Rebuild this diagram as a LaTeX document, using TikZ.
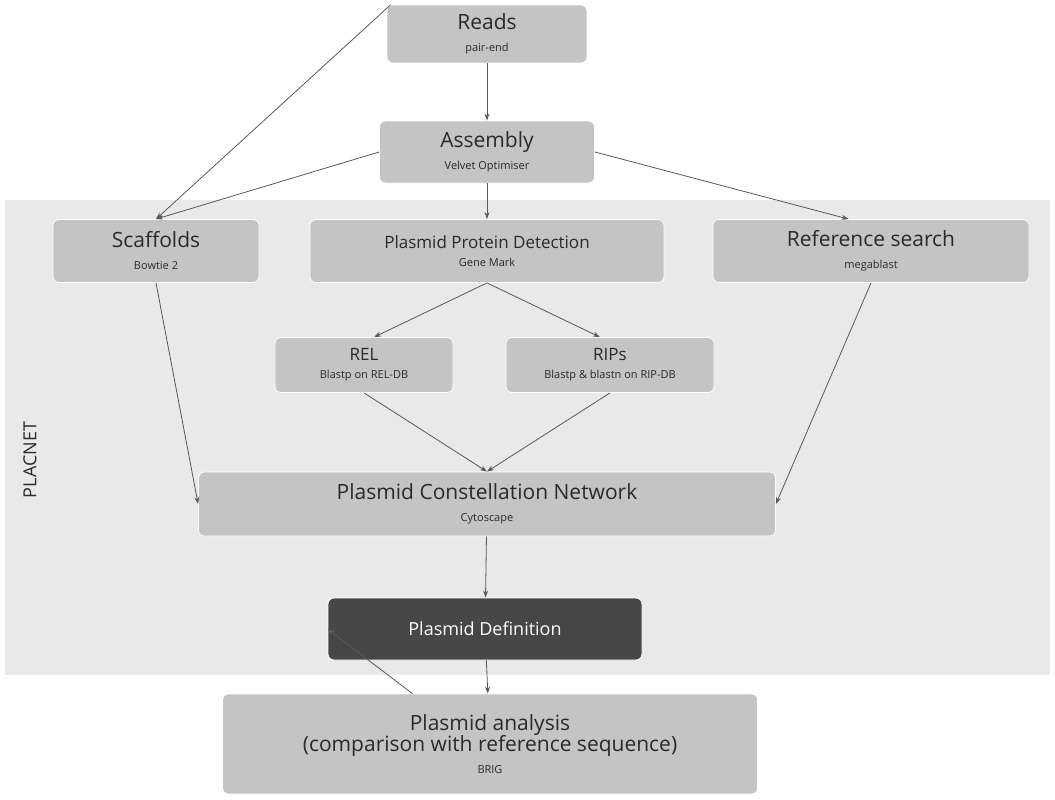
\documentclass[tikz,border=0pt]{standalone}
\usepackage{fontspec}
\setmainfont{Open Sans}
\usetikzlibrary{arrows.meta}
\definecolor{boxgray}{HTML}{C4C4C4}
\definecolor{bandgray}{HTML}{E9E9E9}
\definecolor{darkbox}{HTML}{474747}
\definecolor{txtgray}{HTML}{2A2A2A}
\tikzset{
  stage/.style={rounded corners=6pt,fill=boxgray,draw=white,line width=0.8pt,
    align=center,inner sep=0pt,text=txtgray,font=\fontsize{21}{24}\selectfont},
  flow/.style={draw=gray!70!black,line width=0.8pt,-{Stealth[length=7pt,width=5pt]}}
}
\newcommand{\subtxt}[1]{\\[-2pt]{\fontsize{11}{13}\selectfont #1}}
\begin{document}
\begin{tikzpicture}[x=1pt,y=-1pt]
  \useasboundingbox (0,0) rectangle (1055,800);
  \fill[bandgray] (5,200) rectangle (1050,675);
  \node[rotate=90,font=\fontsize{18}{20}\selectfont,text=txtgray] (placnet) at (30,460) {PLACNET};

  \node[stage,minimum width=200,minimum height=58] (reads) at (487,34) {Reads\subtxt{pair-end}};
  \node[stage,minimum width=215,minimum height=62] (asm) at (487,152) {Assembly\subtxt{Velvet Optimiser}};
  \node[stage,minimum width=206,minimum height=63] (scaf) at (156,251) {Scaffolds\subtxt{Bowtie 2}};
  \node[stage,minimum width=354,minimum height=63,font=\fontsize{17}{20}\selectfont] (ppd) at (487,251) {Plasmid Protein Detection\subtxt{Gene Mark}};
  \node[stage,minimum width=316,minimum height=63] (ref) at (871,251) {Reference search\subtxt{megablast}};
  \node[stage,minimum width=178,minimum height=55,font=\fontsize{17}{20}\selectfont] (rel) at (364,365) {REL\subtxt{Blastp on REL-DB}};
  \node[stage,minimum width=208,minimum height=55,font=\fontsize{17}{20}\selectfont] (rips) at (610,365) {RIPs\subtxt{Blastp \& blastn on RIP-DB}};
  \node[stage,minimum width=577,minimum height=64] (pcn) at (487,504) {Plasmid Constellation Network\subtxt{Cytoscape}};
  \node[stage,fill=darkbox,text=white,minimum width=314,minimum height=62,font=\fontsize{18}{20}\selectfont] (pdef) at (485,629) {Plasmid Definition};
  \node[stage,minimum width=535,minimum height=100] (ana) at (490,744) {Plasmid analysis\\[-3pt](comparison with reference sequence)\subtxt{BRIG}};

  \draw[flow] (reads.163) -- (scaf.north);
  \draw[flow] (reads) -- (asm);
  \draw[flow] (asm.west) -- (scaf.north);
  \draw[flow] (asm) -- (ppd);
  \draw[flow] (asm.east) -- (ref.125);
  \draw[flow] (ppd.south) -- (rel.70);
  \draw[flow] (ppd.south) -- (rips.110);
  \draw[flow] (scaf.south) -- (pcn.west);
  \draw[flow] (rel.south) -- (pcn.north);
  \draw[flow] (rips.south) -- (pcn.north);
  \draw[flow] (ref.south) -- (pcn.east);
  \draw[flow] (pcn) -- (pdef);
  \draw[flow] (pdef) -- (ana);
  \draw[flow] (ana.147) -- (pdef.west);
\end{tikzpicture}
\end{document}
